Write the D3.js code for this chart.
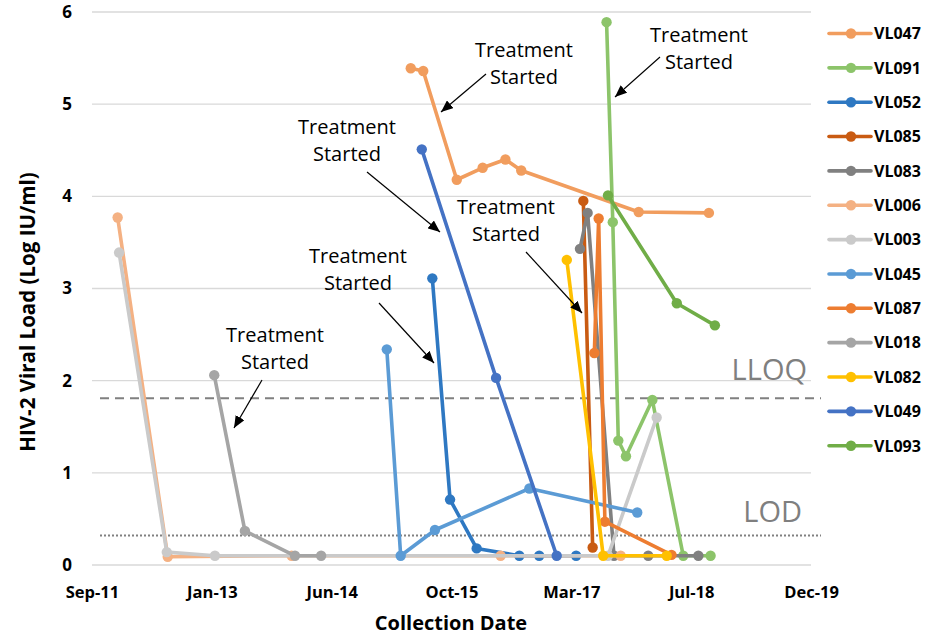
<!DOCTYPE html>
<html><head><meta charset="utf-8">
<script src="https://cdn.jsdelivr.net/npm/d3@7"></script>
<style>
html,body{margin:0;padding:0;background:#fff;}
svg{display:block;}
</style></head>
<body>
<svg id="chart" width="927" height="635"></svg>
<script>
// ---------------- DATA ----------------
const seriesNames = ["VL047","VL091","VL052","VL085","VL083","VL006","VL003","VL045","VL087","VL018","VL082","VL049","VL093"];
const seriesColors = ["#F19D5E","#8CC46A","#2E78C2","#C95B12","#808080","#F4B183","#CACACA","#5B9BD5","#ED7D31","#A5A5A5","#FFC000","#4472C4","#70AD47"];

const VL047 = [["2015-05-06",5.39],["2015-06-27",5.36],["2015-11-14",4.18],["2016-03-01",4.31],["2016-06-04",4.40],["2016-08-09",4.28],["2017-12-12",3.83],["2018-10-01",3.82]];
const VL091 = [["2017-07-31",5.89],["2017-08-26",3.72],["2017-09-18",1.35],["2017-10-20",1.18],["2018-02-07",1.79],["2018-06-16",0.10],["2018-10-08",0.10]];
const VL052 = [["2015-08-04",3.11],["2015-10-17",0.71],["2016-02-05",0.18],["2016-08-01",0.10],["2016-10-23",0.10],["2017-03-26",0.10]];
const VL085 = [["2017-04-25",3.95],["2017-06-03",0.19]];
const VL083 = [["2017-04-11",3.43],["2017-05-13",3.82],["2017-08-31",0.10],["2018-01-21",0.10],["2018-08-18",0.10]];
const VL006 = [["2011-12-30",3.77],["2012-07-26",0.09],["2013-12-25",0.10],["2016-05-15",0.10],["2017-09-28",0.10]];
const VL003 = [["2012-01-05",3.39],["2012-07-22",0.14],["2013-02-08",0.10],["2017-08-06",0.10],["2018-02-25",1.60]];
const VL045 = [["2015-01-26",2.34],["2015-03-25",0.10],["2015-08-15",0.38],["2016-09-12",0.83],["2017-12-06",0.57]];
const VL087 = [["2017-06-10",2.30],["2017-06-28",3.76],["2017-07-24",0.47],["2018-04-28",0.11]];
const VL018 = [["2013-02-05",2.06],["2013-06-13",0.37],["2014-01-08",0.10],["2014-04-27",0.10]];
const VL082 = [["2017-02-15",3.31],["2017-07-17",0.10],["2018-04-08",0.10]];
const VL049 = [["2015-06-21",4.51],["2016-04-26",2.03],["2017-01-04",0.10]];
const VL093 = [["2017-08-06",4.01],["2018-05-20",2.84],["2018-10-26",2.60]];
const seriesValues = [VL047,VL091,VL052,VL085,VL083,VL006,VL003,VL045,VL087,VL018,VL082,VL049,VL093];

const yTicks = [0,1,2,3,4,5,6];
const xStart = "2011-09-14", xEnd = "2019-12-01", xTickStepDays = 500;
const LLOQ = 1.81, LOD = 0.32;
const annotationText = ["Treatment","Started"];

// ---------------- LAYOUT ----------------
const svg = d3.select("#chart");
const parse = d3.utcParse("%Y-%m-%d");
const plot = {left:92, right:811, top:12, bottom:565};
const x = d3.scaleUtc().domain([parse(xStart), parse(xEnd)]).range([plot.left, plot.right]);
const y = d3.scaleLinear().domain([0,6]).range([plot.bottom, plot.top]);
const xTickValues = d3.range(0,7).map(i => d3.utcDay.offset(parse(xStart), i*xTickStepDays));
const fmt = d3.utcFormat("%b-%y");
const FONT = "'Open Sans', sans-serif";

// gridlines
svg.append("g").selectAll("line").data(yTicks).join("line")
  .attr("x1", plot.left).attr("x2", plot.right)
  .attr("y1", d=>y(d)).attr("y2", d=>y(d))
  .attr("stroke", "#D9D9D9").attr("stroke-width", 1.3);

// y axis labels
const yAxis = d3.axisLeft(y).tickValues(yTicks).tickSize(0).tickPadding(20).tickFormat(d3.format("d"));
const gy = svg.append("g").attr("transform", `translate(${plot.left},0)`).call(yAxis);
gy.select(".domain").remove();
gy.selectAll("text").attr("font-family", FONT).attr("font-weight", "bold").attr("font-size", 17).attr("fill", "#000");

// x axis labels
const xAxis = d3.axisBottom(x).tickValues(xTickValues).tickSize(0).tickPadding(21).tickFormat(fmt);
const gx = svg.append("g").attr("transform", `translate(0,${plot.bottom})`).call(xAxis);
gx.select(".domain").remove();
gx.selectAll("text").attr("font-family", FONT).attr("font-weight", "bold").attr("font-size", 16.5).attr("fill", "#000");

// axis titles
svg.append("text").attr("x", 451).attr("y", 630).attr("text-anchor", "middle")
  .attr("font-family", FONT).attr("font-weight", "bold").attr("font-size", 20).text("Collection Date");
svg.append("text").attr("transform", "translate(35,312) rotate(-90)").attr("text-anchor", "middle")
  .attr("font-family", FONT).attr("font-weight", "bold").attr("font-size", 20.5).text("HIV-2 Viral Load (Log IU/ml)");

// LLOQ / LOD lines
svg.append("line").attr("x1", 100).attr("x2", 821).attr("y1", y(LLOQ)).attr("y2", y(LLOQ))
  .attr("stroke", "#808080").attr("stroke-width", 2).attr("stroke-dasharray", "9,6");
svg.append("line").attr("x1", 100).attr("x2", 821).attr("y1", y(LOD)).attr("y2", y(LOD))
  .attr("stroke", "#808080").attr("stroke-width", 2).attr("stroke-dasharray", "2,2");
svg.append("text").attr("x", 807).attr("y", 380).attr("text-anchor", "end")
  .attr("font-family", FONT).attr("font-size", 29).attr("fill", "#7F7F7F").text("LLOQ");
svg.append("text").attr("x", 802).attr("y", 522).attr("text-anchor", "end")
  .attr("font-family", FONT).attr("font-size", 29).attr("fill", "#7F7F7F").text("LOD");

// series
const line = d3.line().x(d=>x(parse(d[0]))).y(d=>y(d[1]));
const gS = svg.append("g");
seriesValues.forEach((vals, i) => {
  const g = gS.append("g");
  g.append("path").attr("d", line(vals)).attr("fill", "none")
    .attr("stroke", seriesColors[i]).attr("stroke-width", 3.6).attr("stroke-linejoin", "round").attr("stroke-linecap", "round");
  g.selectAll("circle").data(vals).join("circle")
    .attr("cx", d=>x(parse(d[0]))).attr("cy", d=>y(d[1])).attr("r", 5.2).attr("fill", seriesColors[i]);
});

// annotations
svg.append("defs").append("marker").attr("id", "arr").attr("viewBox", "0 0 12 10")
  .attr("refX", 12).attr("refY", 5).attr("markerWidth", 12).attr("markerHeight", 10)
  .attr("markerUnits", "userSpaceOnUse").attr("orient", "auto")
  .append("path").attr("d", "M0,0 L12,5 L0,10 Z").attr("fill", "#000");
const annotations = [
  {cx:524, by:57, ax1:486, ay1:74, ax2:441, ay2:112},
  {cx:347, by:134, ax1:367, ay1:172, ax2:440, ay2:232},
  {cx:358, by:263, ax1:379, ay1:303, ax2:434, ay2:363},
  {cx:275, by:342, ax1:262, ay1:380, ax2:234, ay2:428},
  {cx:506, by:214, ax1:526, ay1:252, ax2:582, ay2:313},
  {cx:699, by:42, ax1:660, ay1:57, ax2:615, ay2:97}
];
annotations.forEach(a => {
  annotationText.forEach((t, j) => {
    svg.append("text").attr("x", a.cx).attr("y", a.by + j*27).attr("text-anchor", "middle")
      .attr("font-family", FONT).attr("font-size", 20).attr("fill", "#000").text(t);
  });
  svg.append("line").attr("x1", a.ax1).attr("y1", a.ay1).attr("x2", a.ax2).attr("y2", a.ay2)
    .attr("stroke", "#000").attr("stroke-width", 1.2).attr("marker-end", "url(#arr)");
});

// legend
const leg = svg.append("g");
seriesNames.forEach((n, i) => {
  const yy = 33.5 + i*34.35;
  leg.append("line").attr("x1", 829).attr("x2", 871).attr("y1", yy).attr("y2", yy)
    .attr("stroke", seriesColors[i]).attr("stroke-width", 3.6).attr("stroke-linecap", "round");
  leg.append("circle").attr("cx", 851).attr("cy", yy).attr("r", 5.2).attr("fill", seriesColors[i]);
  leg.append("text").attr("x", 874).attr("y", yy + 5.8).attr("font-family", FONT).attr("font-weight", "bold")
    .attr("font-size", 16).attr("fill", "#000").text(n);
});
</script>
</body></html>
